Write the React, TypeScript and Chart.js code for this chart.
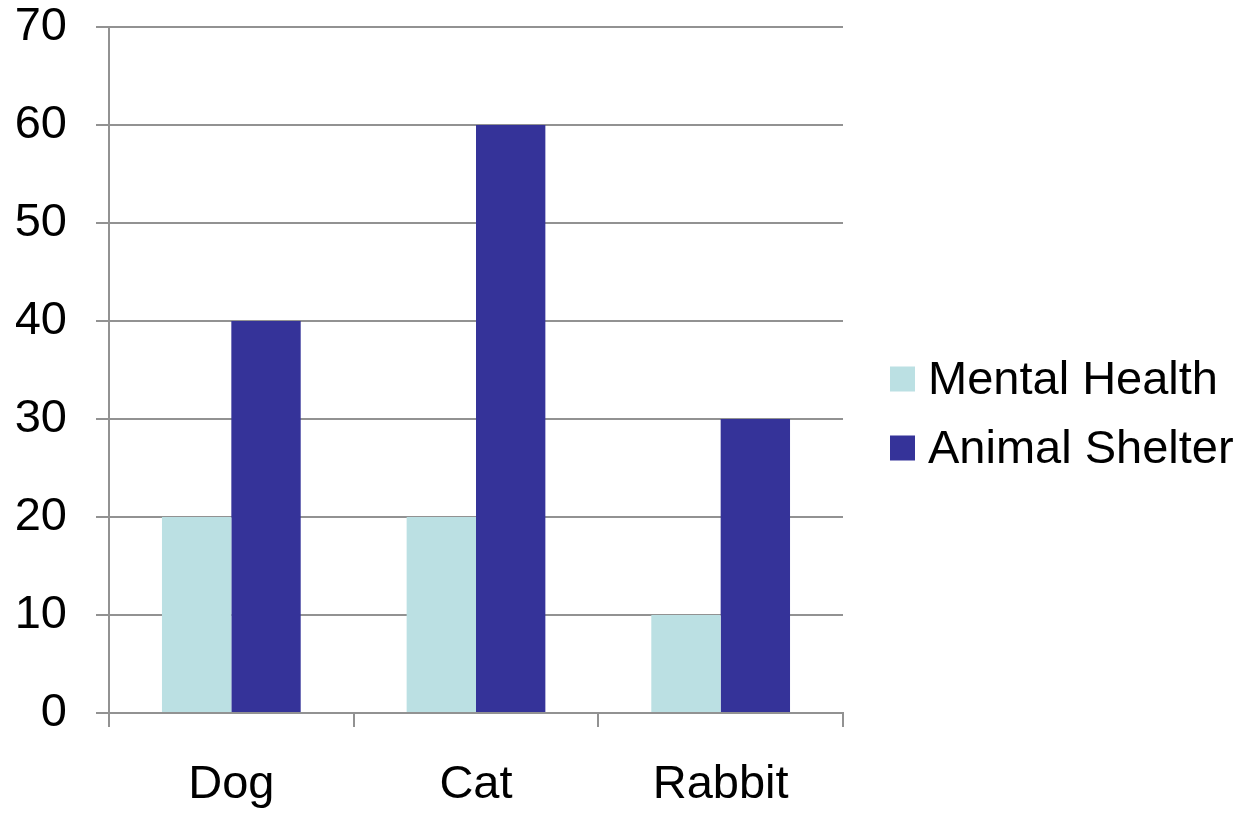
import React, { useEffect, useRef } from "react";
import { Chart, registerables } from "chart.js";

Chart.register(...registerables);

const categories = ["Dog", "Cat", "Rabbit"];
const mentalHealth = [20, 20, 10];
const animalShelter = [40, 60, 30];
const seriesNames = ["Mental Health", "Animal Shelter"];
const seriesColors = ["#BBE0E3", "#353399"];

const FONT = "'Liberation Sans', Arial, sans-serif";
const FS = 47;
const GRID = "#929292";

const customLegend = {
  id: "customLegend",
  afterDraw(chart: any) {
    const ctx = chart.ctx;
    const area = chart.chartArea;
    const box = 25;
    const rowH = 69;
    const x = area.right + 47;
    const centerY = chart.height / 2 + 6;
    const startY = centerY - rowH / 2;
    ctx.save();
    ctx.font = `${FS}px ${FONT}`;
    ctx.textBaseline = "middle";
    ctx.textAlign = "left";
    chart.data.datasets.forEach((ds: any, i: number) => {
      const cy = startY + i * rowH;
      ctx.fillStyle = ds.backgroundColor;
      ctx.fillRect(x, cy - box / 2, box, box);
      ctx.fillStyle = "#000";
      ctx.fillText(ds.label, x + box + 13, cy + 2);
    });
    ctx.restore();
  },
};

export default function App() {
  const ref = useRef<HTMLCanvasElement>(null);
  useEffect(() => {
    document.body.style.margin = "0";
    const chart = new Chart(ref.current!, {
      type: "bar",
      data: {
        labels: categories,
        datasets: [
          { label: seriesNames[0], data: mentalHealth, backgroundColor: seriesColors[0] },
          { label: seriesNames[1], data: animalShelter, backgroundColor: seriesColors[1] },
        ],
      },
      options: {
        animation: false,
        responsive: false,
        layout: { padding: { left: 16, right: 406, top: 27, bottom: 0 } },
        datasets: { bar: { categoryPercentage: 0.567, barPercentage: 1 } },
        plugins: { legend: { display: false }, tooltip: { enabled: false } },
        scales: {
          x: {
            grid: {
              offset: true,
              drawOnChartArea: false,
              tickLength: 14,
              color: GRID,
              lineWidth: 2,
            },
            border: { color: GRID, width: 2 },
            ticks: { color: "#000", font: { family: FONT, size: FS }, padding: 30 },
            afterFit(scale: any) {
              scale.height = 102;
              scale.paddingLeft = 0;
              scale.paddingRight = 0;
            },
          },
          y: {
            min: 0,
            max: 70,
            grid: { tickLength: 13, color: GRID, lineWidth: 2 },
            border: { color: GRID, width: 2 },
            ticks: { stepSize: 10, color: "#000", font: { family: FONT, size: FS }, padding: 29 },
            afterFit(scale: any) {
              scale.width = 93;
              scale.paddingTop = 0;
              scale.paddingBottom = 0;
            },
          },
        },
      },
      plugins: [customLegend],
    });
    return () => chart.destroy();
  }, []);
  return <canvas ref={ref} width={1249} height={815} style={{ display: "block" }} />;
}
